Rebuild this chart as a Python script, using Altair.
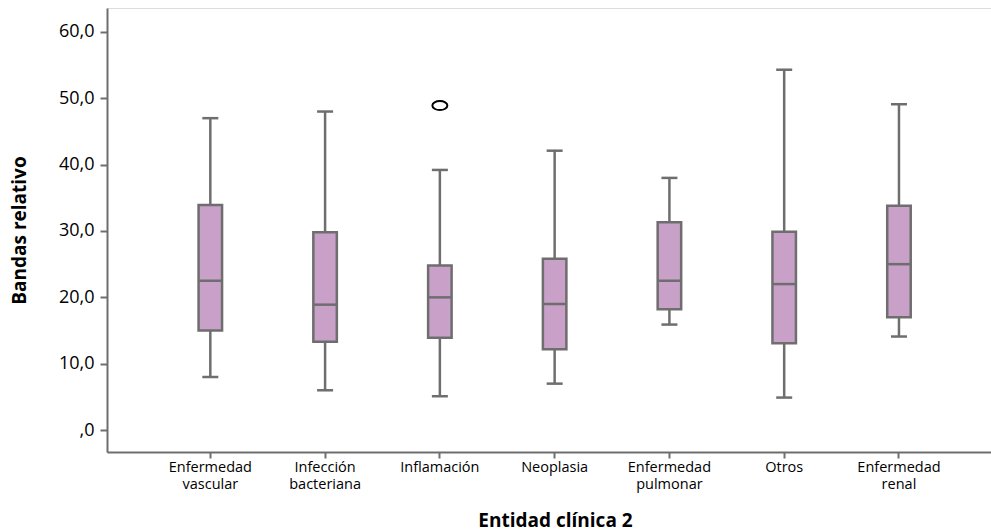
import altair as alt
import pandas as pd

categories = ["Enfermedad vascular", "Infección bacteriana", "Inflamación", "Neoplasia",
              "Enfermedad pulmonar", "Otros", "Enfermedad renal"]
whisker_low = [8.0, 6.0, 5.1, 7.0, 15.9, 4.9, 14.1]
q1 = [15.0, 13.3, 13.9, 12.2, 18.2, 13.1, 17.0]
median = [22.5, 18.9, 20.0, 19.0, 22.5, 22.0, 25.0]
q3 = [33.9, 29.8, 24.8, 25.8, 31.3, 29.9, 33.8]
whisker_high = [47.0, 48.0, 39.2, 42.1, 38.0, 54.3, 49.1]

outlier_category = ["Inflamación"]
outlier_value = [48.9]

y_ticks = [0, 10, 20, 30, 40, 50, 60]

df = pd.DataFrame({
    "cat": categories,
    "lo": whisker_low,
    "q1": q1,
    "med": median,
    "q3": q3,
    "hi": whisker_high,
})
df_out = pd.DataFrame({"cat": outlier_category, "v": outlier_value})

GRAY = "#6e6e6e"
FILL = "#c8a0c8"
FONT = "Open Sans"

x_enc = alt.X(
    "cat:N",
    sort=categories,
    scale=alt.Scale(domain=categories, paddingInner=0, paddingOuter=0.351, align=0.57),
    axis=alt.Axis(
        title="Entidad clínica 2",
        labelAngle=0,
        labelExpr="split(datum.label, ' ')",
        labelFont=FONT,
        labelFontSize=14.5,
        labelLineHeight=17.5,
        labelColor="black",
        labelBaseline="top",
        labelPadding=2,
        tickSize=6,
        tickColor=GRAY,
        tickWidth=2,
        domainColor=GRAY,
        domainWidth=2,
        titleFont=FONT,
        titleFontSize=19,
        titleFontWeight="bold",
        titleColor="black",
        titleX=448,
        titleY=74,
        titleBaseline="alphabetic",
        titleAlign="center",
        grid=False,
    ),
)

y_scale = alt.Scale(domain=[-3.3, 63.6], nice=False, zero=False)
y_axis = alt.Axis(
    title="Bandas relativo",
    values=y_ticks,
    labelExpr="datum.value == 0 ? ',0' : replace(format(datum.value, '.1f'), '.', ',')",
    labelFont=FONT,
    labelFontSize=18,
    labelColor="black",
    labelPadding=6,
    tickSize=7,
    tickColor=GRAY,
    tickWidth=2,
    domainColor=GRAY,
    domainWidth=2,
    titleFont=FONT,
    titleFontSize=19,
    titleFontWeight="bold",
    titleColor="black",
    titleAngle=270,
    titleX=-88,
    titleY=222,
    titleAlign="center",
    titleBaseline="middle",
    grid=False,
)

base = alt.Chart(df)

whisker = base.mark_rule(color=GRAY, strokeWidth=2.5).encode(
    x=x_enc,
    y=alt.Y("lo:Q", scale=y_scale, axis=y_axis),
    y2="hi:Q",
)
box = base.mark_bar(size=23.5, fill=FILL, stroke=GRAY, strokeWidth=2.5).encode(
    x=x_enc,
    y=alt.Y("q1:Q", scale=y_scale),
    y2="q3:Q",
)
med = base.mark_tick(size=24, thickness=2.5, color=GRAY, opacity=1).encode(
    x=x_enc,
    y=alt.Y("med:Q", scale=y_scale),
)
cap_lo = base.mark_tick(size=16, thickness=2.5, color=GRAY, opacity=1).encode(
    x=x_enc,
    y=alt.Y("lo:Q", scale=y_scale),
)
cap_hi = base.mark_tick(size=16, thickness=2.5, color=GRAY, opacity=1).encode(
    x=x_enc,
    y=alt.Y("hi:Q", scale=y_scale),
)
outl = alt.Chart(df_out).mark_point(
    shape="M-1,0A1,0.6,0,1,0,1,0A1,0.6,0,1,0,-1,0Z",
    size=225, filled=False, stroke="black", strokeWidth=2, opacity=1,
).encode(
    x=x_enc,
    y=alt.Y("v:Q", scale=y_scale),
)

chart = alt.layer(whisker, box, med, cap_lo, cap_hi, outl).properties(
    width=884,
    height=444,
    autosize=alt.AutoSizeParams(type="none"),
    padding={"left": 107, "top": 8, "right": 0, "bottom": 80},
).configure_view(stroke=None).configure(background="white")

chart.save("out.html", embed_options={"renderer": "svg", "actions": False})
